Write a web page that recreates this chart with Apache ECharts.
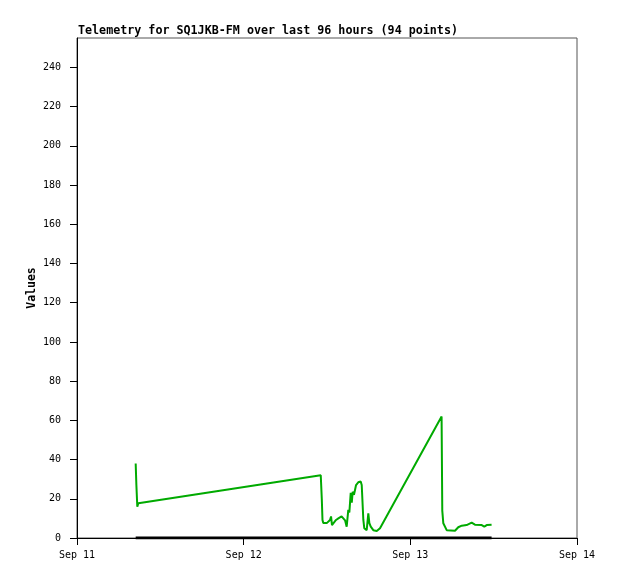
<!DOCTYPE html>
<html>
<head>
<meta charset="utf-8">
<script src="https://cdn.jsdelivr.net/npm/echarts@6/dist/echarts.min.js"></script>
<style>html,body{margin:0;padding:0;background:#fff}#c{width:618px;height:579px}</style>
</head>
<body>
<div id="c"></div>
<script>
const titleText = "Telemetry for SQ1JKB-FM over last 96 hours (94 points)";
const monthNames = ["Jan","Feb","Mar","Apr","May","Jun","Jul","Aug","Sep","Oct","Nov","Dec"];
const xMin = "2024-09-11T00:00:00Z";
const xMax = "2024-09-14T00:00:00Z";
const times = [
  "2024-09-11T08:27","2024-09-11T08:33","2024-09-11T08:41","2024-09-11T08:50",
  "2024-09-12T11:06","2024-09-12T11:15","2024-09-12T11:21","2024-09-12T11:28","2024-09-12T11:42","2024-09-12T11:58",
  "2024-09-12T12:08","2024-09-12T12:26","2024-09-12T12:35","2024-09-12T12:43","2024-09-12T13:00","2024-09-12T13:18",
  "2024-09-12T13:38","2024-09-12T14:06","2024-09-12T14:21","2024-09-12T14:36","2024-09-12T14:50","2024-09-12T15:04",
  "2024-09-12T15:13","2024-09-12T15:25","2024-09-12T15:34","2024-09-12T15:42","2024-09-12T15:53","2024-09-12T16:02",
  "2024-09-12T16:11","2024-09-12T16:30","2024-09-12T16:51","2024-09-12T17:00","2024-09-12T17:14","2024-09-12T17:22",
  "2024-09-12T17:43","2024-09-12T17:57","2024-09-12T18:06","2024-09-12T18:18","2024-09-12T18:40","2024-09-12T19:10",
  "2024-09-12T19:38",
  "2024-09-13T04:30","2024-09-13T04:36","2024-09-13T04:45","2024-09-13T05:14","2024-09-13T06:26","2024-09-13T06:54",
  "2024-09-13T07:24","2024-09-13T08:06","2024-09-13T08:50","2024-09-13T09:18","2024-09-13T10:17","2024-09-13T10:39",
  "2024-09-13T11:00","2024-09-13T11:42"
];
const values = [
  38, 27, 16, 17.7,
  32, 20, 9.2, 7.6, 6.6, 7.6,
  8.5, 9.2, 11, 6.6, 7.6, 9.2,
  10, 11, 10, 9, 5.8, 14.3,
  13, 23, 18, 23.6, 22, 24.5,
  27, 28.4, 28.8, 27, 9.2, 5,
  4, 12.6, 7.6, 5.8, 4, 3.6,
  5,
  62, 14, 7.5, 4, 3.7, 5.5,
  6.3, 6.6, 7.8, 6.8, 6.6, 5.8,
  6.6, 6.8
];
const zeroTimes = ["2024-09-11T08:27", "2024-09-13T11:42"];
const zeroValues = [0, 0];
const yTicks = [0,20,40,60,80,100,120,140,160,180,200,220,240];
const DAY = 24*3600*1000;

const toMs = s => new Date(s.endsWith('Z') ? s : s + ':00Z').getTime();
const chart = echarts.init(document.getElementById('c'), null, {renderer:'canvas'});
const mono = "'DejaVu Sans Mono', 'Liberation Mono', monospace";
chart.setOption({
  backgroundColor: '#fff',
  animation: false,
  title: {
    text: titleText, left: 73, top: 20,
    textStyle: {fontFamily: mono, fontSize: 11.7, fontWeight: 'bold', color: '#000'}
  },
  grid: {left: 77, right: 41, top: 38, bottom: 41, show: true, borderColor: '#555', borderWidth: 1, backgroundColor: 'transparent'},
  xAxis: {
    type: 'value', min: toMs(xMin), max: toMs(xMax), interval: DAY,
    splitLine: {show: false},
    axisLine: {lineStyle: {color: '#000', width: 1}},
    axisTick: {show: true, length: 7, lineStyle: {color: '#000'}},
    axisLabel: {
      margin: 12, color: '#000', fontFamily: mono, fontSize: 10,
      showMinLabel: true, showMaxLabel: true,
      formatter: v => { const d = new Date(v); return monthNames[d.getUTCMonth()] + ' ' + d.getUTCDate(); }
    }
  },
  yAxis: {
    type: 'value', min: 0, max: 255, interval: 20,
    name: 'Values', nameLocation: 'middle', nameGap: 39, nameRotate: 90, nameMoveOverlap: false,
    nameTextStyle: {fontFamily: mono, fontSize: 11.5, fontWeight: 'bold', color: '#000'},
    splitLine: {show: false},
    axisLine: {show: true, lineStyle: {color: '#000', width: 1}},
    axisTick: {show: true, length: 7, lineStyle: {color: '#000'}},
    axisLabel: {
      margin: 16, color: '#000', fontFamily: mono, fontSize: 10, showMaxLabel: false,
      formatter: v => (yTicks.indexOf(v) >= 0 ? String(v) : '')
    }
  },
  series: [
    {
      type: 'line', data: zeroTimes.map((t, i) => [toMs(t), zeroValues[i]]),
      showSymbol: false, lineStyle: {color: '#000', width: 3}, z: 3
    },
    {
      type: 'line', data: times.map((t, i) => [toMs(t), values[i]]),
      showSymbol: false, lineStyle: {color: '#00aa00', width: 2}, z: 4
    }
  ]
});
</script>
</body>
</html>
